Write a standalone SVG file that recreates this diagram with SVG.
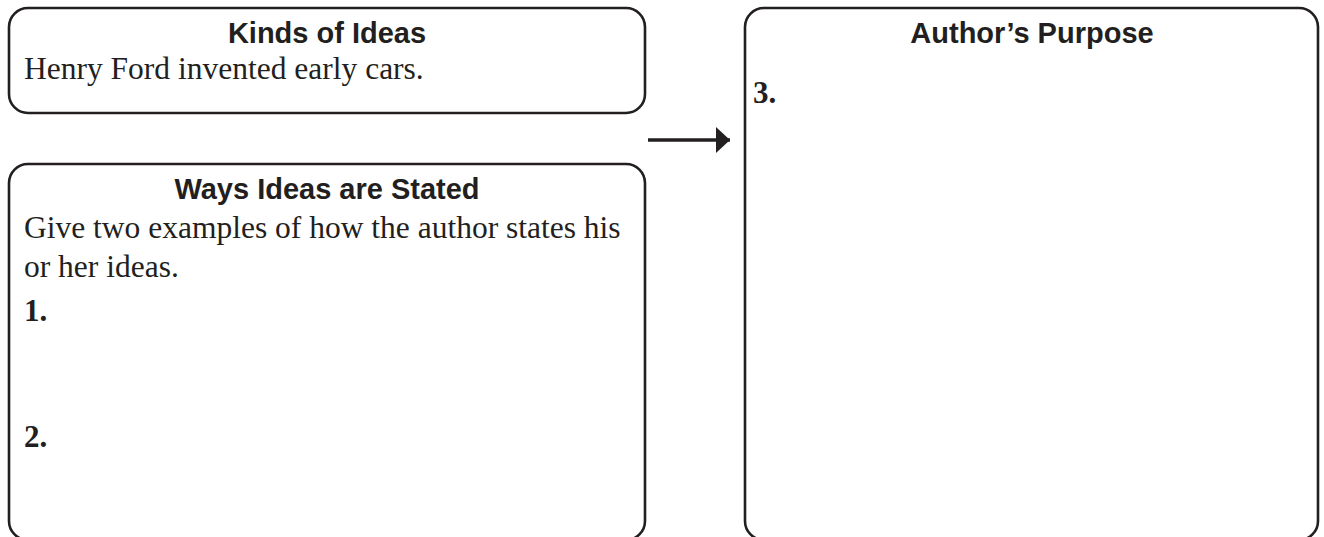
<svg xmlns="http://www.w3.org/2000/svg" width="1324" height="537" viewBox="0 0 1324 537">
  <style>
    .box { fill: #ffffff; stroke: #231f20; stroke-width: 2.6; }
    .head { font-family: "Liberation Sans", Arial, sans-serif; font-weight: bold; font-size: 29px; fill: #231f20; text-anchor: middle; }
    .body { font-family: "Liberation Serif", "Times New Roman", serif; font-size: 31.5px; fill: #231f20; }
    .num { font-family: "Liberation Serif", "Times New Roman", serif; font-size: 31px; font-weight: bold; fill: #231f20; }
    .conn { stroke: #231f20; stroke-width: 3.5; fill: none; }
  </style>
  <defs>
    <marker id="arrowhead" markerWidth="15" markerHeight="26" refX="14" refY="13" orient="auto" markerUnits="userSpaceOnUse">
      <polygon points="0,0 14,13 0,26" fill="#231f20"/>
    </marker>
  </defs>
  <rect width="1324" height="537" fill="#ffffff"/>
  <g id="kinds-of-ideas">
    <rect class="box" x="9" y="8" width="636" height="105" rx="19" ry="19"/>
    <text class="head" x="327" y="43">Kinds of Ideas</text>
    <text class="body" x="24" y="79">Henry Ford invented early cars.</text>
  </g>
  <g id="ways-ideas-stated">
    <rect class="box" x="9" y="164" width="636" height="376" rx="19" ry="19"/>
    <text class="head" x="327" y="199">Ways Ideas are Stated</text>
    <text class="body" x="24" y="238">Give two examples of how the author states his</text>
    <text class="body" x="24" y="277">or her ideas.</text>
    <text class="num" x="24" y="321">1.</text>
    <text class="num" x="24" y="447">2.</text>
  </g>
  <g id="authors-purpose">
    <rect class="box" x="745" y="8" width="573" height="532" rx="19" ry="19"/>
    <text class="head" x="1032" y="43">Author’s Purpose</text>
    <text class="num" x="753" y="103">3.</text>
  </g>
  <g id="connectors">
    <line class="conn" x1="648" y1="140" x2="730" y2="140" marker-end="url(#arrowhead)"/>
  </g>
</svg>
